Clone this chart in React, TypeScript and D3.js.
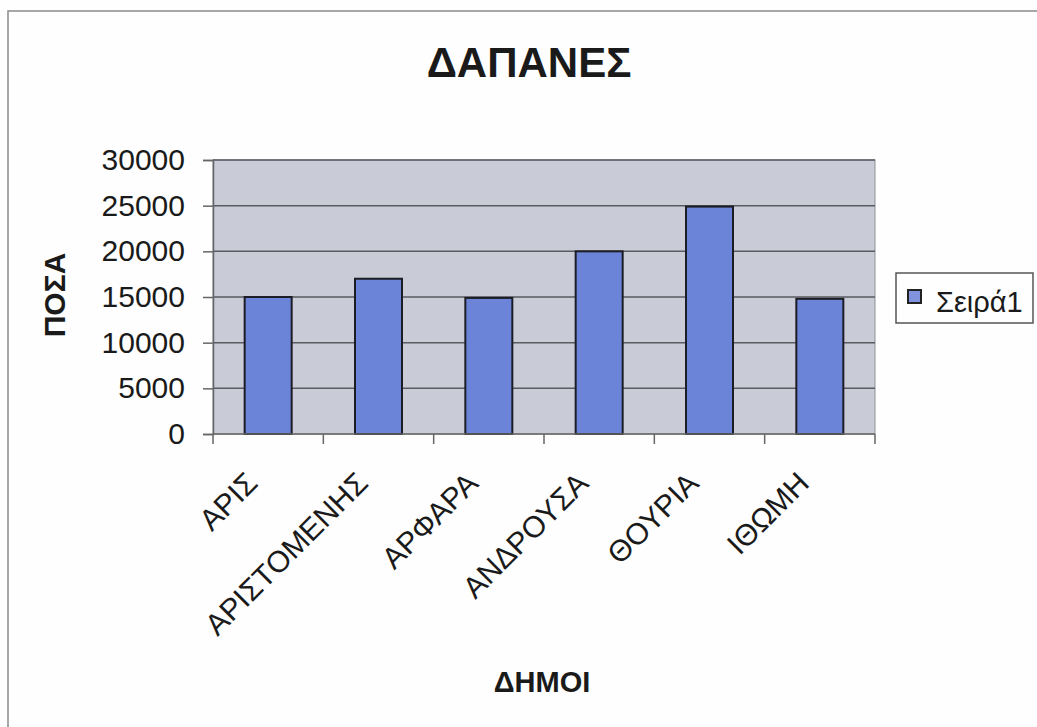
import { useEffect, useRef } from 'react';
import * as d3 from 'd3';

const categories = ['ΑΡΙΣ', 'ΑΡΙΣΤΟΜΕΝΗΣ', 'ΑΡΦΑΡΑ', 'ΑΝΔΡΟΥΣΑ', 'ΘΟΥΡΙΑ', 'ΙΘΩΜΗ'];
const values = [15000, 17000, 14900, 20000, 24900, 14800];
const yTicks = [0, 5000, 10000, 15000, 20000, 25000, 30000];
const seriesName = 'Σειρά1';
const title = 'ΔΑΠΑΝΕΣ';
const xTitle = 'ΔΗΜΟΙ';
const yTitle = 'ΠΟΣΑ';

const width = 1037;
const height = 727;
const margin = { top: 160, right: 162, bottom: 293, left: 213 };
const font = '"Liberation Sans", Arial, sans-serif';

export default function App() {
    const ref = useRef<SVGSVGElement>(null);

    useEffect(() => {
        const svg = d3.select(ref.current);
        svg.selectAll('*').remove();

        // scales
        const x = d3.scaleBand()
            .domain(categories)
            .range([margin.left, width - margin.right])
            .paddingInner(0.574)
            .paddingOuter(0.287);
        const y = d3.scaleLinear()
            .domain([0, 30000])
            .range([height - margin.bottom, margin.top]);

        // chart frame (scan edge)
        svg.append('rect')
            .attr('x', 8).attr('y', 11)
            .attr('width', width + 10).attr('height', height + 10)
            .attr('fill', '#fdfefd')
            .attr('stroke', '#8a8a8a')
            .attr('stroke-width', 1.5);

        // plot background
        svg.append('rect')
            .attr('x', margin.left).attr('y', margin.top)
            .attr('width', width - margin.left - margin.right)
            .attr('height', height - margin.top - margin.bottom)
            .attr('fill', '#c9cbd7')
            .attr('stroke', '#8f9099')
            .attr('stroke-width', 1);

        // grid lines
        svg.append('g')
            .selectAll('line')
            .data(yTicks.slice(1))
            .join('line')
            .attr('x1', margin.left).attr('x2', width - margin.right)
            .attr('y1', d => y(d)).attr('y2', d => y(d))
            .attr('stroke', '#5a5a60')
            .attr('stroke-width', 1.5);

        // bars
        svg.append('g')
            .selectAll('rect')
            .data(values)
            .join('rect')
            .attr('x', (_, i) => x(categories[i])!)
            .attr('y', d => y(d))
            .attr('width', x.bandwidth())
            .attr('height', d => y(0) - y(d))
            .attr('fill', '#6b84d7')
            .attr('stroke', '#1c1c24')
            .attr('stroke-width', 2);

        // y axis
        const gy = svg.append('g')
            .attr('transform', `translate(${margin.left},0)`)
            .call(d3.axisLeft(y).tickValues(yTicks).tickSize(10).tickPadding(18).tickFormat(d3.format('d')));
        gy.select('.domain').attr('stroke', '#666').attr('stroke-width', 1.5);
        gy.selectAll('.tick line').attr('stroke', '#666').attr('stroke-width', 1.5);
        gy.selectAll('.tick text')
            .attr('font-family', font)
            .attr('font-size', 30)
            .attr('fill', '#1a1a1a');

        // x axis
        const step = x.step();
        const bounds = d3.range(categories.length + 1).map(i => margin.left + i * step);
        svg.append('line')
            .attr('x1', margin.left).attr('x2', width - margin.right)
            .attr('y1', y(0)).attr('y2', y(0))
            .attr('stroke', '#666').attr('stroke-width', 1.5);
        svg.append('g')
            .selectAll('line')
            .data(bounds)
            .join('line')
            .attr('x1', d => d).attr('x2', d => d)
            .attr('y1', y(0)).attr('y2', y(0) + 10)
            .attr('stroke', '#666').attr('stroke-width', 1.5);

        svg.append('g')
            .selectAll('text')
            .data(categories)
            .join('text')
            .attr('transform', d => `translate(${x(d)! + x.bandwidth() / 2 - 9},${y(0) + 51}) rotate(-45)`)
            .attr('text-anchor', 'end')
            .attr('font-family', font)
            .attr('font-size', 30)
            .attr('fill', '#1a1a1a')
            .text(d => d);

        // titles
        svg.append('text')
            .attr('x', 529).attr('y', 77)
            .attr('text-anchor', 'middle')
            .attr('font-family', font)
            .attr('font-weight', 'bold')
            .attr('font-size', 42)
            .attr('fill', '#1a1a1a')
            .text(title);
        svg.append('text')
            .attr('x', 542).attr('y', 692)
            .attr('text-anchor', 'middle')
            .attr('font-family', font)
            .attr('font-weight', 'bold')
            .attr('font-size', 29)
            .attr('fill', '#1a1a1a')
            .text(xTitle);
        svg.append('text')
            .attr('transform', `translate(65,295) rotate(-90)`)
            .attr('text-anchor', 'middle')
            .attr('font-family', font)
            .attr('font-weight', 'bold')
            .attr('font-size', 30)
            .attr('fill', '#1a1a1a')
            .text(yTitle);

        // legend
        const lg = svg.append('g').attr('transform', 'translate(896,273)');
        lg.append('rect')
            .attr('width', 137).attr('height', 50)
            .attr('fill', '#fdfefd')
            .attr('stroke', '#555')
            .attr('stroke-width', 1.5);
        lg.append('rect')
            .attr('x', 12).attr('y', 17)
            .attr('width', 13).attr('height', 13)
            .attr('fill', '#8093dc')
            .attr('stroke', '#222')
            .attr('stroke-width', 2);
        lg.append('text')
            .attr('x', 40).attr('y', 39)
            .attr('font-family', font)
            .attr('font-size', 29)
            .attr('fill', '#1a1a1a')
            .text(seriesName);
    }, []);

    return (
        <svg
            ref={ref}
            width={width}
            height={height}
            style={{ position: 'absolute', left: 0, top: 0, background: '#fdfefd' }}
        />
    );
}
